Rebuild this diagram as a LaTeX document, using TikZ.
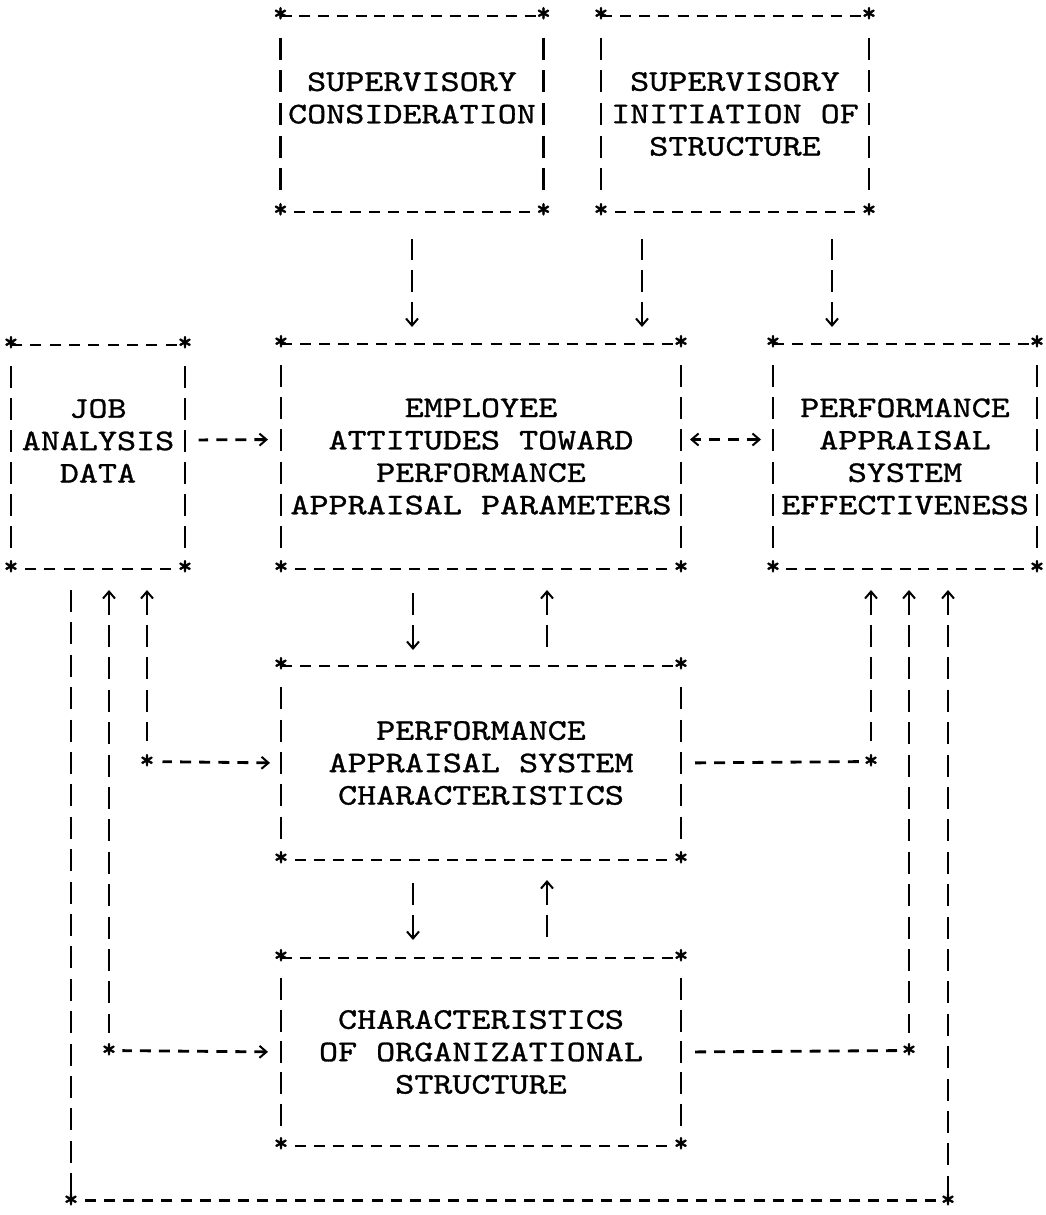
\documentclass[tikz,border=0pt]{standalone}
\usepackage{fontspec}
\usepackage{tikz}
\usetikzlibrary{arrows.meta}
\newfontfamily\typeface{lmmono10-regular.otf}[FakeStretch=1.21,FakeBold=1]
\newfontfamily\starface{lmmono10-regular.otf}[FakeBold=1.6]
\newcommand{\typesize}{\typeface\fontsize{30}{32.4}\selectfont}
\tikzstyle{block} = [inner sep=0pt, outer sep=0pt, align=center, font=\typesize]
\tikzstyle{asterisk} = [inner sep=0pt, outer sep=0pt, yshift=1.5pt, font=\starface\fontsize{28}{30}\selectfont]
\tikzstyle{hdash} = [draw, line width=2.8pt, dash pattern=on 11pt off 8.1pt]
\tikzstyle{vdash} = [draw, line width=2.8pt, dash pattern=on 22pt off 10.4pt]
\tikzset{>={Straight Barb[length=7pt,width=12pt,line width=2pt]}}

\begin{document}
\begin{tikzpicture}[x=1pt,y=-1pt]
    \useasboundingbox (0,0) rectangle (1045,1215);
    % The seven boxes, each with a dashed frame and a star at each corner
    \foreach \pos/\name/\w/\h/\txt in {
        {(412,114)/SC/263/196/{SUPERVISORY\\CONSIDERATION\\\mbox{}}},
        {(735,114)/SIS/268/196/{SUPERVISORY\\INITIATION OF\\STRUCTURE}},
        {(98,457)/JAD/174/224/{JOB\\ANALYSIS\\DATA\\\mbox{}}},
        {(481,456.5)/EAT/400/225/{EMPLOYEE\\ATTITUDES TOWARD\\PERFORMANCE\\APPRAISAL PARAMETERS}},
        {(905,456.5)/PASE/264/225/{PERFORMANCE\\APPRAISAL\\SYSTEM\\EFFECTIVENESS}},
        {(481,763)/PASC/400/194/{PERFORMANCE\\APPRAISAL SYSTEM\\CHARACTERISTICS}},
        {(481,1052)/COS/400/188/{CHARACTERISTICS\\OF ORGANIZATIONAL\\STRUCTURE}}}{
        \node[block, minimum width=\w pt, minimum height=\h pt] (\name) at \pos {\txt};
        % fit the dashes to the box so they end next to the stars
        \pgfmathsetmacro\hp{\w/round(\w/19.1)}
        \pgfmathsetmacro\vp{\h/round(\h/32.4)}
        \pgfmathsetmacro\hoff{\hp-11}
        \pgfmathsetmacro\voff{\vp-22}
        \pgfmathsetmacro\hcut{\hp-5.5}
        \pgfmathsetmacro\vcut{\vp-11}
        \path[hdash, dash pattern=on 11pt off \hoff pt, shorten <=\hcut pt, shorten >=\hcut pt]
            (\name.north west) -- (\name.north east) (\name.south west) -- (\name.south east);
        \path[vdash, dash pattern=on 22pt off \voff pt, shorten <=\vcut pt, shorten >=\vcut pt]
            (\name.north west) -- (\name.south west);
        \path[vdash, dash pattern=on 22pt off \voff pt, shorten <=\vcut pt, shorten >=\vcut pt]
            (\name.north east) -- (\name.south east);
        \foreach \c/\k in {north west/nw,north east/ne,south west/sw,south east/se}
            \node[asterisk] (\name-\k) at (\name.\c) {*};
    }

    % Corners of the long connectors
    \foreach \pos/\name in {{(147,763)/k1},{(109,1052)/k2},{(71,1202)/k3},{(948,1202)/k4},{(871,763)/k5},{(909,1052)/k6}}
        \node[asterisk] (\name) at \pos {*};

    % Short arrows between neighbouring boxes
    \path[vdash, <-, shorten <=17pt, shorten >=27pt] (SC.south |- EAT.north) -- (SC.south);
    \path[vdash, <-, shorten <=17pt, shorten >=27pt] ([xshift=161pt]EAT.north) -- ([xshift=-93pt]SIS.south);
    \path[vdash, <-, shorten <=17pt, shorten >=27pt] ([xshift=-73pt]PASE.north) -- ([xshift=97pt]SIS.south);
    \path[hdash, <-, shorten <=13pt, shorten >=13.7pt] ([yshift=17pt]EAT.west) -- ([yshift=17pt]JAD.east);
    \path[hdash, <->, shorten <=12pt, shorten >=9pt] ([yshift=17pt]PASE.west) -- ([yshift=17pt]EAT.east);
    \path[vdash, <-, shorten <=16pt, shorten >=23pt] ([xshift=-68pt]PASC.north) -- ([xshift=-68pt]EAT.south);
    \path[vdash, <-, shorten <=21pt, shorten >=16pt] ([xshift=66pt]EAT.south) -- ([xshift=66pt]PASC.north);
    \path[vdash, <-, shorten <=18pt, shorten >=22pt] ([xshift=-68pt]COS.north) -- ([xshift=-68pt]PASC.south);
    \path[vdash, <-, shorten <=20pt, shorten >=18pt] ([xshift=66pt]PASC.south) -- ([xshift=66pt]COS.north);

    % Long connectors round the side
    \path[vdash, <-, shorten <=21pt, shorten >=20.4pt] (k1 |- JAD.south) -- (k1.center);
    \path[hdash, <-, shorten <=11pt, shorten >=15.5pt] (PASC.west) -- (k1.center);
    \path[vdash, <-, shorten <=21pt, shorten >=18pt] (k2 |- JAD.south) -- (k2.center);
    \path[hdash, <-, shorten <=13pt, shorten >=13.3pt] (COS.west) -- (k2.center);
    \path[vdash, shorten <=21pt, shorten >=7pt] (k3 |- JAD.south) -- (k3.center);
    \path[hdash, shorten <=14pt, shorten >=11.6pt] (k3.center) -- (k4.center);
    \path[vdash, <-, shorten <=21pt, shorten >=6pt] (k4 |- PASE.south) -- (k4.center);
    \path[hdash, shorten <=14pt, shorten >=12.2pt] (PASC.east) -- (k5.center);
    \path[vdash, <-, shorten <=21pt, shorten >=20.4pt] (k5 |- PASE.south) -- (k5.center);
    \path[hdash, shorten <=14pt, shorten >=12pt] (COS.east) -- (k6.center);
    \path[vdash, <-, shorten <=21pt, shorten >=18pt] (k6 |- PASE.south) -- (k6.center);
\end{tikzpicture}
\end{document}
